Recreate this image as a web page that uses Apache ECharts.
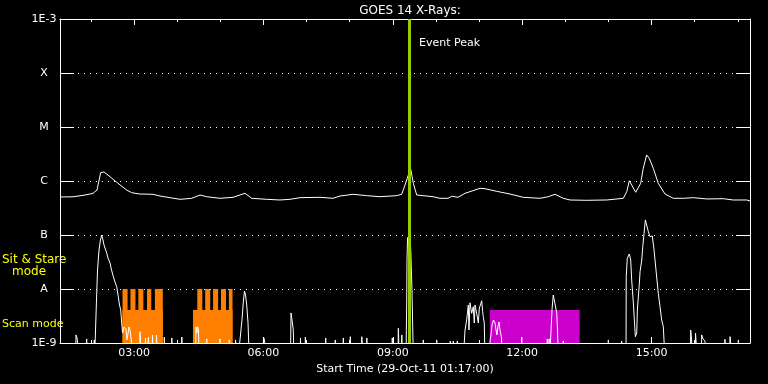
<!DOCTYPE html>
<html>
<head>
<meta charset="utf-8">
<script src="https://cdn.jsdelivr.net/npm/echarts@6/dist/echarts.min.js"></script>
<style>html,body{margin:0;padding:0;background:#000;}#c{width:768px;height:384px;}</style>
</head>
<body>
<div id="c"></div>
<script>
// time in minutes after midnight, 29-Oct-11
const startMinute = 77;   // 01:17
const endMinute = 1037;   // 17:17
const labelMinutes = [180, 360, 540, 720, 900];
const hourMinutes = [120,180,240,300,360,420,480,540,600,660,720,780,840,900,960,1020];
const yTickLabels = ['1E-9','A','B','C','M','X','1E-3'];
const eventPeakMinute = 562.6;

// GOES long channel (1-8 A), [minute, W/m^2]
const longChannel = [
 [77,5.06e-7],[95.1,5.1e-7],[111.8,5.5e-7],[122.9,5.9e-7],[128.5,6.8e-7],[133.6,1.43e-6],[138.2,1.47e-6],
 [146.6,1.2e-6],[157.7,9.06e-7],[169.8,6.8e-7],[176.8,6.07e-7],[188.3,5.74e-7],[206.4,5.67e-7],[216.1,5.27e-7],
 [244,4.58e-7],[260.2,4.78e-7],[271.8,5.5e-7],[281.1,5.12e-7],[299.6,4.78e-7],[317.7,4.99e-7],[334.4,5.92e-7],
 [343.7,4.78e-7],[364.6,4.58e-7],[383.1,4.45e-7],[397,4.58e-7],[410.9,4.91e-7],[438.7,4.99e-7],[456.8,4.78e-7],
 [466.6,5.27e-7],[484.7,5.67e-7],[503.7,5.35e-7],[522.2,5.12e-7],[545.5,5.35e-7],[552.4,5.67e-7],[557,8.43e-7],
 [561.6,1.29e-6],[565,1.65e-6],[568.6,9.06e-7],[573.3,5.5e-7],[575.1,5.21e-7],[596,5.12e-7],[605.7,4.78e-7],
 [616.8,4.78e-7],[622,5.21e-7],[630.7,4.99e-7],[640.5,5.92e-7],[661.4,7.32e-7],[668.3,7.2e-7],[684.6,6.44e-7],
 [703.1,5.74e-7],[721.6,4.99e-7],[744.8,4.78e-7],[756.4,5.12e-7],[765.7,5.67e-7],[777.2,4.78e-7],[786.6,4.45e-7],
 [809.8,4.39e-7],[837.6,4.45e-7],[860.7,4.78e-7],[865.5,6.34e-7],[869.1,1.01e-6],[872.4,8.43e-7],[878,6.18e-7],
 [884.9,9.06e-7],[888.5,1.72e-6],[893.2,3.03e-6],[896.9,2.63e-6],[902.4,1.72e-6],[909.4,9.06e-7],[918.7,5.74e-7],
 [930.3,4.78e-7],[944.2,4.78e-7],[958.1,4.91e-7],[976.8,4.65e-7],[999.8,4.7e-7],[1013.7,4.45e-7],[1032.4,4.45e-7],
 [1037,4.27e-7]
];

// GOES short channel (0.5-4 A), [minute, W/m^2]; 5e-10 = below plot floor
const shortChannel = [
 [77,5e-10],[98.6,5e-10],[99.3,1.41e-9],[100.7,1.24e-9],[102.0,1.35e-9],[103.4,1.14e-9],[104.1,5e-10],
 [113.6,5e-10],[114.1,1.19e-9],[114.7,5e-10],[124.3,5e-10],[124.7,1.14e-9],[125.1,5e-10],
 [127.1,5e-10],[127.8,6.25e-9],[129.2,2.25e-8],[131.3,5.27e-8],[133.3,8.08e-8],[135.0,1.0e-7],[136.8,8.08e-8],
 [138.2,6.53e-8],[142.0,4.64e-8],[143.8,3.75e-8],[146.6,3.03e-8],[148.7,2.25e-8],[151.2,1.69e-8],[153.5,1.35e-8],
 [155.9,1.10e-8],[158.1,7.2e-9],[159.8,5.06e-9],[161.5,4.08e-9],[162.8,2.34e-9],[164.0,1.53e-9],[165.3,1.74e-9],
 [166.0,1.98e-9],[168.8,1.82e-9],[170.2,1.14e-9],[171.6,1.47e-9],[173.0,1.98e-9],[174.4,1.74e-9],[175.8,1.24e-9],
 [177.2,1.35e-9],[178.6,5e-10],
 [187.6,5e-10],[188.3,1.62e-9],[189.0,1.24e-9],[189.7,5e-10],[195.3,5e-10],[196.0,1.24e-9],[196.7,5e-10],
 [199.4,5e-10],[200.1,1.29e-9],[200.8,5e-10],[205.0,5e-10],[205.7,1.41e-9],[206.4,5e-10],[210.6,5e-10],
 [211.3,1.41e-9],[212.0,5e-10],[221.7,5e-10],[222.1,1.29e-9],[222.7,5e-10],[232.1,5e-10],[232.6,1.24e-9],
 [233.1,5e-10],[246.0,5e-10],[246.5,1.29e-9],[247.0,5e-10],
 [265.5,5e-10],[266.2,1.98e-9],[267.6,1.53e-9],[268.3,2.0e-9],[269.7,1.74e-9],[270.4,5e-10],
 [280.8,5e-10],[281.2,1.19e-9],[281.8,5e-10],[299.3,5e-10],[299.6,1.19e-9],[300.0,5e-10],
 [312.1,5e-10],[312.5,1.14e-9],[313.0,5e-10],[320.5,5e-10],[321.2,1.14e-9],[323.3,1.19e-9],[324.7,5e-10],
 [327.4,5e-10],[328.8,1.74e-9],[330.2,2.67e-9],[332.3,6.25e-9],[333.7,9.18e-9],[335.1,7.74e-9],[336.8,5.06e-9],
 [338.6,2.34e-9],[340.4,5e-10],
 [359.4,5e-10],[360.1,1.29e-9],[361.5,1.14e-9],[362.9,1.14e-9],[363.6,5e-10],
 [397.7,5e-10],[398.4,3.6e-9],[399.8,2.67e-9],[401.6,1.74e-9],[402.6,5e-10],
 [410.9,5e-10],[411.6,1.24e-9],[412.3,5e-10],[417.9,5e-10],[418.3,1.29e-9],[419.3,1.19e-9],[420.2,1.29e-9],
 [421.1,5e-10],[446.4,5e-10],[446.7,1.24e-9],[447.1,5e-10],[459.6,5e-10],[460.0,1.14e-9],[460.6,5e-10],
 [470.7,5e-10],[471.2,1.24e-9],[471.7,5e-10],[480.5,5e-10],[480.9,1.31e-9],[481.5,5e-10],
 [496.5,5e-10],[496.9,1.31e-9],[497.9,1.24e-9],[498.6,5e-10],[503.4,5e-10],[503.9,1.24e-9],[504.4,5e-10],
 [538.9,5e-10],[539.3,1.24e-9],[539.9,5e-10],[547.3,5e-10],[547.7,1.87e-9],[548.2,1.24e-9],[548.7,5e-10],
 [552.1,5e-10],[552.6,1.41e-9],[553.1,5e-10],
 [558.4,5e-10],[559.4,6.25e-9],[559.8,3.44e-8],[560.5,8.79e-8],[562.6,9.58e-8],[564.7,6.53e-8],[565.3,3.96e-8],
 [566.7,9.58e-9],[568.6,5e-10],
 [582.0,5e-10],[582.5,1.14e-9],[583.0,5e-10],[600.8,5e-10],[601.1,1.14e-9],[601.5,5e-10],
 [619.6,5e-10],[620.0,1.09e-9],[620.6,5e-10],[623.8,5e-10],[624.2,1.09e-9],[624.8,5e-10],
 [629.4,5e-10],[629.8,1.09e-9],[630.3,5e-10],
 [638.1,5e-10],[640.5,1.74e-9],[642.8,2.67e-9],[645.1,5.06e-9],[646.0,1.74e-9],[647.4,5.57e-9],[649.8,3.55e-9],
 [652.0,4.70e-9],[653.4,2.34e-9],[654.4,5.06e-9],[656.7,3.55e-9],[659.0,2.34e-9],[660.4,4.45e-9],[662.0,5.06e-9],
 [663.7,6.07e-9],[665.1,3.80e-9],[665.9,3.07e-9],[667.3,2.34e-9],[668.3,5e-10],
 [674.6,5e-10],[675.3,1.09e-9],[676.7,1.41e-9],[678.1,2.15e-9],[680.1,2.67e-9],[682.2,2.34e-9],[683.6,1.74e-9],
 [685.0,1.41e-9],[686.4,2.07e-9],[687.8,2.45e-9],[689.2,1.74e-9],[691.3,1.24e-9],[692.0,5e-10],
 [719.1,5e-10],[719.4,1.29e-9],[719.8,5e-10],[754.6,5e-10],[755.0,1.19e-9],[755.5,5e-10],
 [757.3,5e-10],[757.7,1.19e-9],[758.3,5e-10],
 [760.1,5e-10],[761.5,4.08e-9],[763.3,7.74e-9],[765.0,7.11e-9],[768.1,3.6e-9],[769.2,1.74e-9],[770.3,5e-10],
 [776.8,5e-10],[777.2,1.09e-9],[778.2,1.09e-9],[778.6,5e-10],[839.5,5e-10],[839.9,1.14e-9],[840.4,5e-10],
 [858.1,5e-10],[858.4,1.09e-9],[858.9,5e-10],
 [864.5,5e-10],[864.8,1.69e-8],[866.3,3.71e-8],[869.1,4.45e-8],[871.0,3.44e-8],[872.4,1.47e-8],[874.7,5.51e-9],
 [876.1,2.67e-9],[877.5,1.31e-9],[879.4,1.53e-9],[880.3,4.08e-9],[883.1,1.29e-8],[884.0,2.09e-8],[886.4,3.44e-8],
 [887.8,6.07e-8],[889.6,1.07e-7],[891.4,1.90e-7],[893.4,1.95e-7],[895.6,1.15e-7],[897.9,9.31e-8],[901.1,9.58e-8],
 [903.5,5.27e-8],[906.2,2.25e-8],[909.4,8.32e-9],[911.8,4.70e-9],[914.1,2.67e-9],[916.4,2.0e-9],[918.7,5e-10],
 [954.0,5e-10],[954.5,1.74e-9],[955.6,1.24e-9],[957.0,5e-10],[960.5,5e-10],[961.2,1.51e-9],[962.9,1.51e-9],
 [963.7,5e-10],[969.2,5e-10],[969.8,1.41e-9],[971.6,1.19e-9],[974.4,1.09e-9],[975.1,5e-10],
 [1001.7,5e-10],[1002.1,1.17e-9],[1003.5,1.09e-9],[1004.2,5e-10],[1008.7,5e-10],[1009.2,1.31e-9],
 [1011.5,1.31e-9],[1012.0,5e-10],[1020.4,5e-10],[1020.8,1.14e-9],[1021.4,5e-10],[1037,5e-10]
];

// observing modes: [start minute, end minute, level]
const scanLevel = 4.08e-9;
const sitStareLevel = 1e-8;
const orangeScan = [[164,220,scanLevel],[262,317,scanLevel]];
const orangeSitStare = [[164,171,sitStareLevel],[175,182,sitStareLevel],[186,193,sitStareLevel],[198,204,sitStareLevel],[209,220,sitStareLevel],
                        [268,275,sitStareLevel],[279,286,sitStareLevel],[290,297,sitStareLevel],[301,308,sitStareLevel],[312,317,sitStareLevel]];
const magentaScan = [[675,800,scanLevel]];

const FONT = 'DejaVu Sans';
function hhmm(m){const h=Math.floor(m/60),mm=Math.round(m%60);return String(h).padStart(2,'0')+':'+String(mm).padStart(2,'0');}

function blockRender(color){
  return function(params, api){
    const a = api.coord([api.value(0), api.value(2)]);
    const b = api.coord([api.value(1), 1e-9]);
    return {type:'rect', shape:{x:a[0], y:a[1], width:b[0]-a[0], height:b[1]-a[1]}, style:{fill:color}};
  };
}

const xBase = {type:'value', min:startMinute, max:endMinute, splitLine:{show:false}};
const chart = echarts.init(document.getElementById('c'));
chart.setOption({
  backgroundColor:'#000',
  animation:false,
  title:{text:'GOES 14 X-Rays:', left:405, top:0, textAlign:'center',
    textStyle:{color:'#fff', fontFamily:FONT, fontSize:12, fontWeight:'normal'}},
  grid:{left:60, right:18, top:19, bottom:41},
  xAxis:[
    Object.assign({}, xBase, {position:'bottom',
      axisLine:{lineStyle:{color:'#fff', width:1}},
      axisTick:{inside:true, length:6, lineStyle:{color:'#fff'}, customValues:labelMinutes},
      axisLabel:{color:'#fff', fontFamily:FONT, fontSize:11, margin:5, customValues:labelMinutes, formatter:hhmm},
      name:'Start Time (29-Oct-11 01:17:00)', nameLocation:'middle', nameGap:19,
      nameTextStyle:{color:'#fff', fontFamily:FONT, fontSize:11}}),
    Object.assign({}, xBase, {position:'bottom', axisLine:{show:false},
      axisTick:{inside:true, length:3, lineStyle:{color:'#fff'}, customValues:hourMinutes},
      axisLabel:{show:false}}),
    Object.assign({}, xBase, {position:'top',
      axisLine:{lineStyle:{color:'#fff', width:1}},
      axisTick:{inside:true, length:6, lineStyle:{color:'#fff'}, customValues:labelMinutes},
      axisLabel:{show:false}}),
    Object.assign({}, xBase, {position:'top', axisLine:{show:false},
      axisTick:{inside:true, length:3, lineStyle:{color:'#fff'}, customValues:hourMinutes},
      axisLabel:{show:false}})
  ],
  yAxis:[
    {type:'log', logBase:10, min:1e-9, max:1e-3, position:'left',
      axisLine:{show:true, lineStyle:{color:'#fff', width:1}},
      axisTick:{show:true, inside:true, length:14, lineStyle:{color:'#fff'}},
      axisLabel:{color:'#fff', fontFamily:FONT, fontSize:11, align:'center', margin:16,
        formatter:v=>yTickLabels[Math.round(Math.log10(v))+9]},
      splitLine:{show:true, lineStyle:{color:'#fff', width:1, type:[1,5]}}},
    {type:'log', logBase:10, min:1e-9, max:1e-3, position:'right',
      axisLine:{show:true, lineStyle:{color:'#fff', width:1}},
      axisTick:{show:true, inside:true, length:14, lineStyle:{color:'#fff'}},
      axisLabel:{show:false}, splitLine:{show:false}}
  ],
  graphic:[
    {type:'text', left:2, top:254, style:{text:'Sit & Stare', fill:'#ffff00', font:'12px '+FONT}},
    {type:'text', left:12, top:266, style:{text:'mode', fill:'#ffff00', font:'12px '+FONT}},
    {type:'text', left:2, top:319, style:{text:'Scan mode', fill:'#ffff00', font:'11px '+FONT}}
  ],
  series:[
    {type:'custom', name:'scanOrange', xAxisIndex:0, yAxisIndex:0, z:1, silent:true,
      encode:{x:[0,1], y:2}, data:orangeScan, renderItem:blockRender('#ff8000')},
    {type:'custom', name:'sitStare', xAxisIndex:0, yAxisIndex:0, z:1, silent:true,
      encode:{x:[0,1], y:2}, data:orangeSitStare, renderItem:blockRender('#ff8000')},
    {type:'custom', name:'scanMagenta', xAxisIndex:0, yAxisIndex:0, z:1, silent:true,
      encode:{x:[0,1], y:2}, data:magentaScan, renderItem:blockRender('#cc00cc')},
    {type:'line', name:'long', xAxisIndex:0, yAxisIndex:0, z:3, data:longChannel, showSymbol:false, symbol:'none',
      lineStyle:{color:'#fff', width:1}, clip:true, silent:true},
    {type:'line', name:'short', xAxisIndex:0, yAxisIndex:0, z:3, data:shortChannel, showSymbol:false, symbol:'none',
      lineStyle:{color:'#fff', width:1}, clip:true, silent:true},
    {type:'line', name:'event', xAxisIndex:0, yAxisIndex:0, z:5, data:[], silent:true,
      markLine:{symbol:'none', silent:true, animation:false, label:{show:false},
        lineStyle:{color:'#99cc00', width:3, type:'solid'}, data:[{xAxis:eventPeakMinute}]},
      markPoint:{symbol:'circle', symbolSize:0, silent:true, animation:false,
        label:{show:true, position:'right', distance:10, formatter:'Event Peak', color:'#fff', fontFamily:FONT, fontSize:11},
        data:[{coord:[eventPeakMinute, 3.6e-4]}]}}
  ]
});
</script>
</body>
</html>
